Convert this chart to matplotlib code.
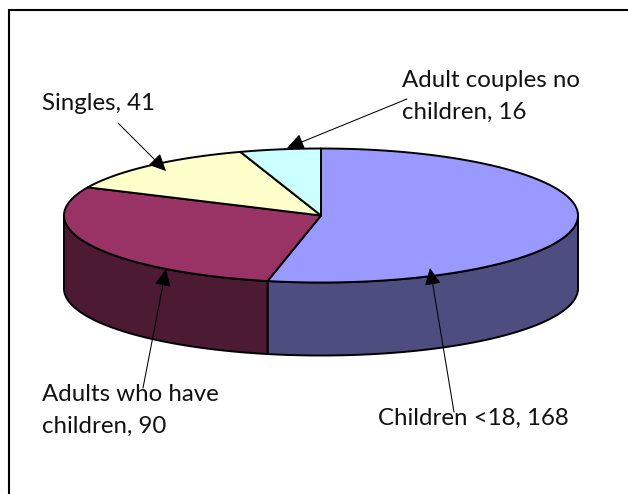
import numpy as np
import matplotlib
matplotlib.use("Agg")
import matplotlib.pyplot as plt
from matplotlib.patches import Polygon, FancyArrowPatch

categories = ["Children <18", "Adults who have children", "Singles", "Adult couples no children"]
values = [168, 90, 41, 16]
label_lines = [["Children <18, 168"], ["Adults who have", "children, 90"], ["Singles, 41"], ["Adult couples no", "children, 16"]]
top_colors = ["#9999FF", "#993366", "#FFFFCC", "#CCFFFF"]
side_colors = ["#4D4D80", "#4D1A33", "#80806A", "#668080"]

W, H = 628, 494
CX, CY, RX, RY, DEPTH = 321.0, 215.5, 257.0, 67.0, 73.0
LW = 1.4
LINE_STEP = 32

fig = plt.figure(figsize=(W / 100, H / 100), dpi=100, facecolor="white")
ax = fig.add_axes([0, 0, 1, 1])
ax.set_xlim(0, W)
ax.set_ylim(H, 0)
ax.axis("off")


def rim(t0, t1, dy=0.0):
    t = np.radians(np.linspace(t0, t1, max(int(abs(t1 - t0)) * 2, 2)))
    return np.column_stack([CX + RX * np.sin(t), CY + dy - RY * np.cos(t)])


edges = np.concatenate([[0], np.cumsum(values)]) / sum(values) * 360.0

# side walls (only the front half of the disc, 90..270 degrees clockwise from top)
for i in range(len(values)):
    a, b = max(edges[i], 90), min(edges[i + 1], 270)
    if b <= a:
        continue
    pts = np.vstack([rim(a, b), rim(b, a, DEPTH)])
    ax.add_patch(Polygon(pts, closed=True, fc=side_colors[i], ec="black", lw=LW, joinstyle="round", zorder=2))

# top faces
for i in range(len(values)):
    pts = np.vstack([[CX, CY], rim(edges[i], edges[i + 1])])
    ax.add_patch(Polygon(pts, closed=True, fc=top_colors[i], ec="black", lw=LW, joinstyle="round", zorder=3))

# leader arrows: (text end) -> (tip)
leaders = [((454, 412), (430, 268)), ((143, 388), (166, 269)), ((118, 123), (166, 171)), ((407, 99), (287, 148))]
for start, tip in leaders:
    ax.add_patch(FancyArrowPatch(start, tip, arrowstyle="-|>,head_length=10.5,head_width=5",
                                 mutation_scale=1, shrinkA=0, shrinkB=0, color="black", lw=0.75, zorder=4))

# labels, positioned by the baseline of their first line
positions = [(378, 425), (42, 401), (42, 110), (402, 87)]
for lines, (x, y) in zip(label_lines, positions):
    for k, line in enumerate(lines):
        ax.text(x, y + k * LINE_STEP, line, family="Lato", fontsize=17.3, color="#111111",
                ha="left", va="baseline", zorder=5)

# the frame: only top and left edges are inside the crop
ax.plot([9, 9, W], [H, 10.5, 10.5], color="black", lw=1.5, solid_joinstyle="miter", zorder=6)

fig.savefig("out.png", dpi=100)
